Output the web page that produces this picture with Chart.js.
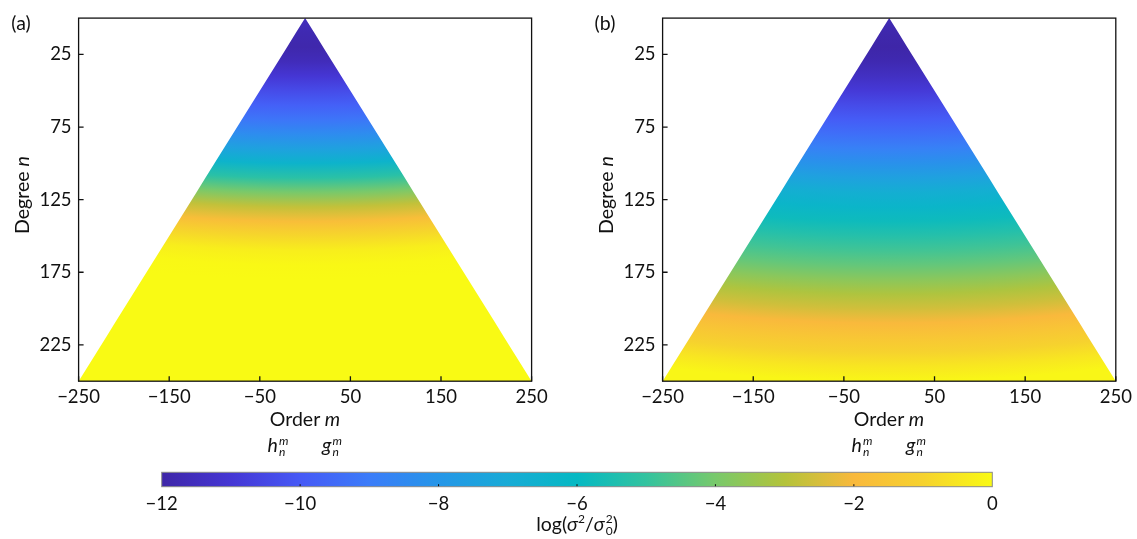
<!DOCTYPE html>
<html>
<head>
<meta charset="utf-8">
<script src="https://cdn.jsdelivr.net/npm/chart.js@4.4.0/dist/chart.umd.min.js"></script>
<style>
  body { margin: 0; background: #fff; }
  #wrap { position: relative; width: 1137px; height: 539px; overflow: hidden; font-family: Lato, sans-serif; color: #111; }
  .box { position: absolute; }
  .lbl { position: absolute; font-size: 19.5px; line-height: 1; white-space: nowrap; transform: translate(-50%, -50%); }
  .rot { transform: translate(-50%, -50%) rotate(-90deg); }
  .ss { display: inline-block; vertical-align: -0.35em; font-size: 12px; line-height: 0.95; font-style: italic; margin-left: 1px; }
  .ss span { display: block; }
</style>
</head>
<body>
<div id="wrap">
  <div class="box" style="left:0;top:0;width:560px;height:470px"><canvas id="panelA"></canvas></div>
  <div class="box" style="left:584px;top:0;width:553px;height:470px"><canvas id="panelB"></canvas></div>
  <div class="box" style="left:100px;top:460px;width:960px;height:79px"><canvas id="cbar"></canvas></div>

  <div class="lbl" style="left:21px;top:23px">(a)</div>
  <div class="lbl" style="left:605px;top:23px">(b)</div>
  <div class="lbl rot" style="left:22px;top:195px">Degree <i>n</i></div>
  <div class="lbl rot" style="left:606px;top:195px">Degree <i>n</i></div>
  <div class="lbl" style="left:305px;top:419px">Order <i>m</i></div>
  <div class="lbl" style="left:889px;top:419px">Order <i>m</i></div>
  <div class="lbl" style="left:278px;top:446px"><i>h</i><span class="ss"><span>m</span><span>n</span></span></div>
  <div class="lbl" style="left:332px;top:446px"><i>g</i><span class="ss"><span>m</span><span>n</span></span></div>
  <div class="lbl" style="left:862px;top:446px"><i>h</i><span class="ss"><span>m</span><span>n</span></span></div>
  <div class="lbl" style="left:916px;top:446px"><i>g</i><span class="ss"><span>m</span><span>n</span></span></div>
  <div class="lbl" style="left:577px;top:525px">log(<i>σ</i><sup style="font-size:12px">2</sup>/<i>σ</i><span class="ss" style="font-style:normal"><span>2</span><span>0</span></span>)</div>
</div>

<script>
// degree n at which the variance ratio was read, and log(σ²/σ0²) for each panel
const degrees = [0, 10, 20, 30, 40, 50, 60, 70, 80, 90, 100, 110, 120, 130, 140, 150, 160, 170, 180, 190, 200, 210, 220, 230, 240, 250];
const logRatioA = [-11.5, -11.8, -11.9, -11.6, -11.0, -10.4, -9.8, -9.2, -8.4, -7.5, -6.4, -5.2, -4.0, -2.8, -1.8, -0.9, -0.3, -0.05, 0, 0, 0, 0, 0, 0, 0, 0];
const logRatioB = [-11.7, -11.9, -12.0, -11.8, -11.4, -10.9, -10.4, -9.9, -9.4, -8.8, -8.2, -7.5, -6.8, -6.3, -5.8, -5.3, -4.8, -4.3, -3.7, -3.1, -2.6, -2.0, -1.5, -1.0, -0.5, -0.1];

const orderTicks = [-250, -150, -50, 50, 150, 250];
const degreeTicks = [25, 75, 125, 175, 225];
const cbarTicks = [-12, -10, -8, -6, -4, -2, 0];

// parula-like colour scale sampled at integer log values
const cmapValues = [-12, -11, -10, -9, -8, -7, -6, -5, -4, -3, -2, -1, 0];
const cmapColors = ['#3e26a8', '#4536d4', '#4659f6', '#3b7cf9', '#2596e8', '#18abd6', '#05b9c3', '#33c39f', '#78c96b', '#b4c33a', '#f9b93c', '#f6d22e', '#f9fa14'];

const minus = (v) => String(v).replace('-', '\u2212');
Chart.defaults.font.family = 'Lato';
Chart.defaults.color = '#111';

function hexRgb(h) {
  return [1, 3, 5].map((i) => parseInt(h.slice(i, i + 2), 16));
}

function colorFor(v) {
  if (v <= cmapValues[0]) return cmapColors[0];
  for (let i = 1; i < cmapValues.length; i++) {
    if (v <= cmapValues[i]) {
      const t = (v - cmapValues[i - 1]) / (cmapValues[i] - cmapValues[i - 1]);
      const a = hexRgb(cmapColors[i - 1]), b = hexRgb(cmapColors[i]);
      const c = a.map((x, k) => Math.round(x + (b[k] - x) * t));
      return `rgb(${c[0]},${c[1]},${c[2]})`;
    }
  }
  return cmapColors[cmapColors.length - 1];
}

// bands bow slightly: colour by distance from a point far above the apex
const bowRadius = 1500;

function panelGradient(chart, values) {
  const { ctx, chartArea, scales } = chart;
  if (!chartArea) return null;
  const cx = scales.x.getPixelForValue(0);
  const y0 = scales.y.getPixelForValue(degrees[0]);
  const y1 = scales.y.getPixelForValue(degrees[degrees.length - 1]);
  const g = ctx.createRadialGradient(cx, y0 - bowRadius, bowRadius, cx, y0 - bowRadius, bowRadius + (y1 - y0));
  degrees.forEach((n, i) => {
    const off = (scales.y.getPixelForValue(n) - y0) / (y1 - y0);
    g.addColorStop(Math.min(1, Math.max(0, off)), colorFor(values[i]));
  });
  return g;
}

// box round the plot area plus inward tick marks
const framePlugin = {
  id: 'frame',
  afterDraw(chart) {
    const { ctx, chartArea: a, scales } = chart;
    ctx.save();
    ctx.strokeStyle = '#111';
    ctx.lineWidth = 1.3;
    ctx.beginPath();
    orderTicks.forEach((v) => {
      const x = scales.x.getPixelForValue(v);
      ctx.moveTo(x, a.bottom);
      ctx.lineTo(x, a.bottom - 5);
    });
    degreeTicks.forEach((v) => {
      const y = scales.y.getPixelForValue(v);
      ctx.moveTo(a.left, y);
      ctx.lineTo(a.left + 5, y);
    });
    ctx.stroke();
    ctx.strokeRect(a.left, a.top, a.right - a.left, a.bottom - a.top);
    ctx.restore();
  }
};

function drawPanel(canvasId, values, padRight) {
  const nMax = degrees[degrees.length - 1];
  // upper outline of the |m| <= n triangle, filled down to n = nMax
  const outline = [];
  degrees.slice().reverse().forEach((n) => outline.push({ x: -n, y: n }));
  degrees.slice(1).forEach((n) => outline.push({ x: n, y: n }));

  const ctx = document.getElementById(canvasId).getContext('2d');
  return new Chart(ctx, {
    type: 'line',
    data: {
      datasets: [{
        data: outline,
        fill: { value: nMax },
        borderWidth: 0,
        borderColor: 'transparent',
        pointRadius: 0,
        tension: 0,
        backgroundColor: (c) => panelGradient(c.chart, values),
      }],
    },
    options: {
      responsive: true,
      maintainAspectRatio: false,
      animation: false,
      layout: { padding: { left: 0, top: 9.5, right: padRight, bottom: 48.8 } },
      plugins: { legend: { display: false }, tooltip: { enabled: false } },
      scales: {
        x: {
          type: 'linear', min: -nMax, max: nMax,
          grid: { display: false, drawTicks: false }, border: { display: false },
          ticks: { font: { size: 18.5 }, padding: 5, maxRotation: 0, callback: (v) => minus(v) },
          afterBuildTicks: (s) => { s.ticks = orderTicks.map((v) => ({ value: v })); },
          afterFit: (s) => { s.height = 40; },
        },
        y: {
          type: 'linear', reverse: true, min: 0, max: nMax,
          grid: { display: false, drawTicks: false }, border: { display: false },
          ticks: { font: { size: 18.5 }, padding: 7, callback: (v) => minus(v) },
          afterBuildTicks: (s) => { s.ticks = degreeTicks.map((v) => ({ value: v })); },
          afterFit: (s) => { s.width = 78.6; },
        },
      },
    },
    plugins: [framePlugin],
  });
}

function drawColorbar(canvasId) {
  const ctx = document.getElementById(canvasId).getContext('2d');
  const lo = cmapValues[0], hi = cmapValues[cmapValues.length - 1];
  return new Chart(ctx, {
    type: 'bar',
    data: {
      labels: [''],
      datasets: [{
        data: [[lo, hi]],
        barPercentage: 1,
        categoryPercentage: 1,
        backgroundColor: (c) => {
          const { ctx: g2, chartArea, scales } = c.chart;
          if (!chartArea) return null;
          const x0 = scales.x.getPixelForValue(lo), x1 = scales.x.getPixelForValue(hi);
          const g = g2.createLinearGradient(x0, 0, x1, 0);
          cmapValues.forEach((v, i) => g.addColorStop((scales.x.getPixelForValue(v) - x0) / (x1 - x0), cmapColors[i]));
          return g;
        },
      }],
    },
    options: {
      indexAxis: 'y',
      responsive: true,
      maintainAspectRatio: false,
      animation: false,
      layout: { padding: { left: 61.7, top: 12.3, right: 67.7, bottom: 22.3 } },
      plugins: { legend: { display: false }, tooltip: { enabled: false } },
      scales: {
        x: {
          type: 'linear', min: lo, max: hi,
          grid: { display: false, drawTicks: false }, border: { display: false },
          ticks: { font: { size: 18.5 }, padding: 6, maxRotation: 0, callback: (v) => minus(v) },
          afterBuildTicks: (s) => { s.ticks = cbarTicks.map((v) => ({ value: v })); },
          afterFit: (s) => { s.height = 30; },
        },
        y: { display: false },
      },
    },
    plugins: [{
      id: 'cbarFrame',
      afterDraw(chart) {
        const { ctx: c, chartArea: a, scales } = chart;
        c.save();
        c.strokeStyle = '#111';
        c.lineWidth = 1;
        c.beginPath();
        cbarTicks.slice(1, -1).forEach((v) => {
          const x = scales.x.getPixelForValue(v);
          c.moveTo(x, a.bottom);
          c.lineTo(x, a.bottom - 2.5);
        });
        c.stroke();
        c.strokeStyle = '#8a8a8a';
        c.strokeRect(a.left, a.top, a.right - a.left, a.bottom - a.top);
        c.restore();
      }
    }],
  });
}

drawPanel('panelA', logRatioA, 28.4);
drawPanel('panelB', logRatioB, 21.2);
drawColorbar('cbar');
</script>
</body>
</html>
